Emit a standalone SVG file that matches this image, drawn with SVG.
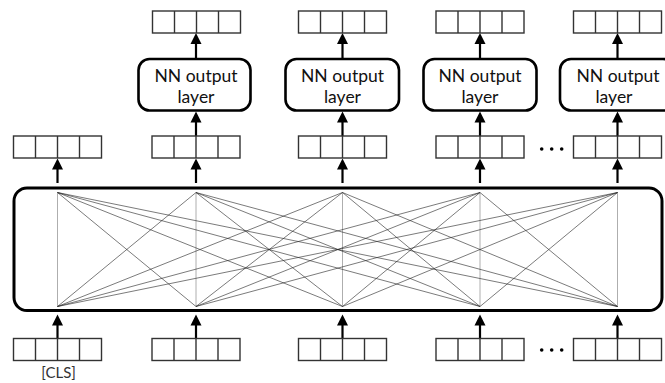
<svg xmlns="http://www.w3.org/2000/svg" width="665" height="383" viewBox="0 0 665 383">
<defs>
<style>
.vec{fill:#fff;stroke:#333;stroke-width:1.4}
.cell{stroke:#333;stroke-width:1.4}
.box{fill:#fff;stroke:#000;stroke-width:2.6}
.big{fill:#fff;stroke:#000;stroke-width:3}
.arr{stroke:#000;stroke-width:2.2;fill:none}
.head{fill:#000}
.lbl{font-family:Lato,"Open Sans",sans-serif;font-size:17.5px;fill:#111;text-anchor:middle}
.cls{font-family:Lato,"Open Sans",sans-serif;font-size:15px;fill:#333;text-anchor:middle}
.edge{stroke:#222;stroke-width:0.6}
.vert{stroke:#999;stroke-width:0.8}
.dot{fill:#000}
</style>
<g id="vecproto">
<rect class="vec" x="0" y="0" width="88" height="22"/>
<line class="cell" x1="22" y1="0" x2="22" y2="22"/>
<line class="cell" x1="44" y1="0" x2="44" y2="22"/>
<line class="cell" x1="66" y1="0" x2="66" y2="22"/>
</g>
<path id="ah" class="head" d="M0,0 L5.5,11 L-5.5,11 Z"/>
</defs>

<g id="encoder">
<rect class="big" x="14" y="188" width="648" height="122.5" rx="13" ry="13"/>
</g>

<g id="connectors">
<g id="attention-edges">
<line class="vert" x1="57.5" y1="192.5" x2="57.5" y2="306.5"/>
<line class="vert" x1="196" y1="192.5" x2="196" y2="306.5"/>
<line class="vert" x1="342.5" y1="192.5" x2="342.5" y2="306.5"/>
<line class="vert" x1="480" y1="192.5" x2="480" y2="306.5"/>
<line class="vert" x1="617.5" y1="192.5" x2="617.5" y2="306.5"/>
<line class="edge" x1="57.5" y1="192.5" x2="196" y2="306.5"/>
<line class="edge" x1="57.5" y1="192.5" x2="342.5" y2="306.5"/>
<line class="edge" x1="57.5" y1="192.5" x2="480" y2="306.5"/>
<line class="edge" x1="57.5" y1="192.5" x2="617.5" y2="306.5"/>
<line class="edge" x1="196" y1="192.5" x2="57.5" y2="306.5"/>
<line class="edge" x1="196" y1="192.5" x2="342.5" y2="306.5"/>
<line class="edge" x1="196" y1="192.5" x2="480" y2="306.5"/>
<line class="edge" x1="196" y1="192.5" x2="617.5" y2="306.5"/>
<line class="edge" x1="342.5" y1="192.5" x2="57.5" y2="306.5"/>
<line class="edge" x1="342.5" y1="192.5" x2="196" y2="306.5"/>
<line class="edge" x1="342.5" y1="192.5" x2="480" y2="306.5"/>
<line class="edge" x1="342.5" y1="192.5" x2="617.5" y2="306.5"/>
<line class="edge" x1="480" y1="192.5" x2="57.5" y2="306.5"/>
<line class="edge" x1="480" y1="192.5" x2="196" y2="306.5"/>
<line class="edge" x1="480" y1="192.5" x2="342.5" y2="306.5"/>
<line class="edge" x1="480" y1="192.5" x2="617.5" y2="306.5"/>
<line class="edge" x1="617.5" y1="192.5" x2="57.5" y2="306.5"/>
<line class="edge" x1="617.5" y1="192.5" x2="196" y2="306.5"/>
<line class="edge" x1="617.5" y1="192.5" x2="342.5" y2="306.5"/>
<line class="edge" x1="617.5" y1="192.5" x2="480" y2="306.5"/>
</g>
<line class="arr" x1="57.5" y1="338" x2="57.5" y2="322"/><use href="#ah" x="57.5" y="314.5"/>
<line class="arr" x1="196" y1="338" x2="196" y2="322"/><use href="#ah" x="196" y="314.5"/>
<line class="arr" x1="342.5" y1="338" x2="342.5" y2="322"/><use href="#ah" x="342.5" y="314.5"/>
<line class="arr" x1="480" y1="338" x2="480" y2="322"/><use href="#ah" x="480" y="314.5"/>
<line class="arr" x1="617.5" y1="338" x2="617.5" y2="322"/><use href="#ah" x="617.5" y="314.5"/>
<line class="arr" x1="57.5" y1="183" x2="57.5" y2="167"/><use href="#ah" x="57.5" y="158.5"/>
<line class="arr" x1="196" y1="183" x2="196" y2="167"/><use href="#ah" x="196" y="158.5"/>
<line class="arr" x1="342.5" y1="183" x2="342.5" y2="167"/><use href="#ah" x="342.5" y="158.5"/>
<line class="arr" x1="480" y1="183" x2="480" y2="167"/><use href="#ah" x="480" y="158.5"/>
<line class="arr" x1="617.5" y1="183" x2="617.5" y2="167"/><use href="#ah" x="617.5" y="158.5"/>
<line class="arr" x1="196" y1="136" x2="196" y2="121"/><use href="#ah" x="196" y="111.5"/>
<line class="arr" x1="342.5" y1="136" x2="342.5" y2="121"/><use href="#ah" x="342.5" y="111.5"/>
<line class="arr" x1="480" y1="136" x2="480" y2="121"/><use href="#ah" x="480" y="111.5"/>
<line class="arr" x1="617.5" y1="136" x2="617.5" y2="121"/><use href="#ah" x="617.5" y="111.5"/>
<line class="arr" x1="196" y1="58" x2="196" y2="43"/><use href="#ah" x="196" y="33"/>
<line class="arr" x1="342.5" y1="58" x2="342.5" y2="43"/><use href="#ah" x="342.5" y="33"/>
<line class="arr" x1="480" y1="58" x2="480" y2="43"/><use href="#ah" x="480" y="33"/>
<line class="arr" x1="617.5" y1="58" x2="617.5" y2="43"/><use href="#ah" x="617.5" y="33"/>
</g>

<g id="nn1"><rect class="box" x="138.5" y="59" width="112" height="51.5" rx="11"/><text class="lbl" x="196" y="81.5">NN output</text><text class="lbl" x="196" y="102.5">layer</text></g>
<g id="nn2"><rect class="box" x="285.5" y="59" width="113.5" height="51.5" rx="11"/><text class="lbl" x="342.5" y="81.5">NN output</text><text class="lbl" x="342.5" y="102.5">layer</text></g>
<g id="nn3"><rect class="box" x="423.5" y="59" width="113" height="51.5" rx="11"/><text class="lbl" x="480" y="81.5">NN output</text><text class="lbl" x="480" y="102.5">layer</text></g>
<g id="nn4"><rect class="box" x="560" y="59" width="114" height="51.5" rx="11"/><text class="lbl" x="618" y="81.5">NN output</text><text class="lbl" x="614" y="102.5">layer</text></g>

<g id="out2"><use href="#vecproto" x="152.5" y="11"/></g>
<g id="out3"><use href="#vecproto" x="298.5" y="11"/></g>
<g id="out4"><use href="#vecproto" x="436" y="11"/></g>
<g id="out5"><use href="#vecproto" x="573.5" y="11"/></g>

<g id="hid1"><use href="#vecproto" x="13.5" y="136"/></g>
<g id="hid2"><use href="#vecproto" x="152" y="136"/></g>
<g id="hid3"><use href="#vecproto" x="298.5" y="136"/></g>
<g id="hid4"><use href="#vecproto" x="436" y="136"/></g>
<g id="hid5"><use href="#vecproto" x="573.5" y="136"/></g>
<g id="dots-mid"><circle class="dot" cx="541.7" cy="149" r="1.8"/><circle class="dot" cx="551.7" cy="149" r="1.8"/><circle class="dot" cx="561.7" cy="149" r="1.8"/></g>

<g id="in1"><use href="#vecproto" x="13.5" y="338.5"/><text class="cls" x="58.5" y="377.5">[CLS]</text></g>
<g id="in2"><use href="#vecproto" x="152" y="338.5"/></g>
<g id="in3"><use href="#vecproto" x="298.5" y="338.5"/></g>
<g id="in4"><use href="#vecproto" x="436" y="338.5"/></g>
<g id="in5"><use href="#vecproto" x="573.5" y="338.5"/></g>
<g id="dots-in"><circle class="dot" cx="541.7" cy="350" r="1.8"/><circle class="dot" cx="551.7" cy="350" r="1.8"/><circle class="dot" cx="561.7" cy="350" r="1.8"/></g>
</svg>
